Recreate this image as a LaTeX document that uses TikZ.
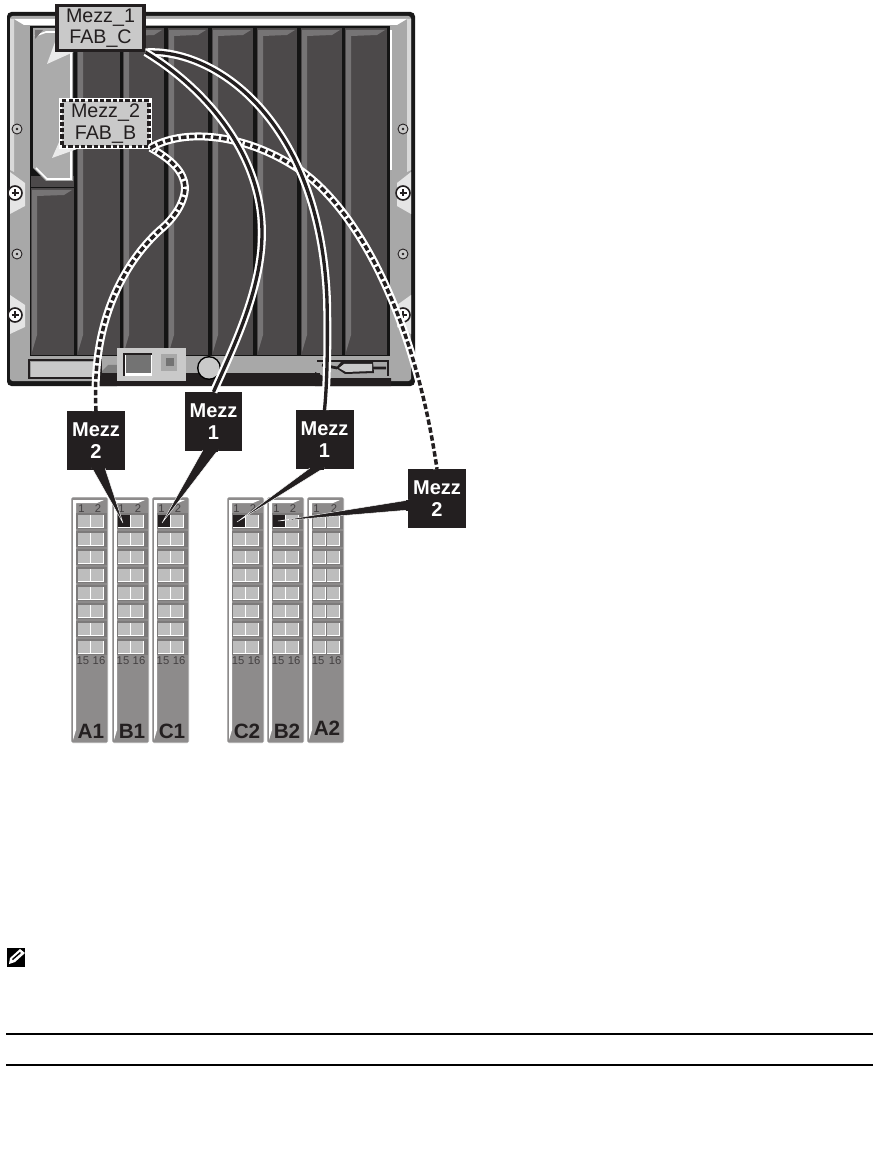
\documentclass[tikz,border=0pt]{standalone}
\usepackage{fontspec}
\setmainfont{Liberation Sans}
\definecolor{bladeC}{HTML}{4C494A}
\definecolor{bevelC}{HTML}{767475}
\definecolor{silverC}{HTML}{A8A8A8}
\definecolor{lightC}{HTML}{C9C9C9}
\definecolor{swC}{HTML}{8D8B8B}
\definecolor{portC}{HTML}{BDBDBD}
\definecolor{inkC}{HTML}{231F20}
\tikzset{
  x=0.02cm,y=-0.02cm,
  greybox/.style={draw=inkC,line width=1.8pt,fill=lightC,inner sep=0pt,align=center,text=inkC,
    font=\fontsize{11.2}{12.2}\selectfont,minimum width=1.74cm,minimum height=0.91cm},
  dashbox/.style={greybox,dash pattern=on 2.4pt off 1.2pt,preaction={draw=white,solid,line width=3pt}},
  blackbox/.style={fill=inkC,text=white,inner sep=0pt,align=center,minimum width=1.16cm,minimum height=1.17cm,
    font=\fontsize{11.4}{12.6}\selectfont\bfseries},
  portnum/.style={inner sep=0pt,text=inkC!85!white,font=\fontsize{6.4}{8}\selectfont},
  swname/.style={inner sep=0pt,text=inkC,font=\fontsize{11.8}{13}\selectfont\bfseries},
  wiresolid/.style={draw=inkC,line width=1.9pt,preaction={draw=white,line width=4.5pt}},
  wiredash/.style={draw=inkC,line width=2pt,dash pattern=on 3.1pt off 1.5pt,preaction={draw=white,solid,line width=4.5pt}},
  pointer/.style={fill=inkC,draw=white,line width=0.25pt},
}
\begin{document}
\begin{tikzpicture}
\useasboundingbox (0,0) rectangle (873,1175);
% chassis
\fill[black!90,rounded corners=2.5pt] (7,12) rectangle (415,386);
\fill[silverC,rounded corners=1.5pt] (10,16) rectangle (411,381);
\fill[white] (14,19) -- (407,19) -- (397,25) -- (24,25) -- cycle;
\fill[white!85!black] (10,19) -- (14,19) -- (14,172) -- (10,170) -- cycle;
\fill[white!85!black] (407,19) -- (411,19) -- (411,170) -- (407,172) -- cycle;
\fill[white!90!black] (10,172) -- (25,183) -- (25,206) -- (10,214) -- cycle;
\fill[white!90!black] (10,295) -- (25,305) -- (25,327) -- (10,334) -- cycle;
\fill[white!90!black] (411,172) -- (397,183) -- (397,206) -- (411,214) -- cycle;
\fill[white!90!black] (411,295) -- (397,305) -- (397,327) -- (411,334) -- cycle;
\draw[white,line width=0.8pt] (391,30) -- (391,170);
% interior
\fill[black!92] (30,26) rectangle (390,356);
\foreach \xa/\xb in {77/120,123/164,168/208,212/253,257/297,301/342,345/387}{
  \fill[bladeC] (\xa,28) rectangle (\xb,355);
  \fill[bevelC] (\xa+1,30) -- (\xb-2,30) -- (\xb-10,35) -- (\xa+6,36) -- (\xa+6,335) -- (\xa+1,352) -- cycle;
}
\fill[bladeC] (31,188) rectangle (74,355);
\fill[bevelC] (32,190) -- (72,190) -- (64,195) -- (37,196) -- (37,335) -- (32,352) -- cycle;
\fill[bladeC] (31,176) rectangle (74,187);
% drive
\fill[lightC!85!black] (33,28) -- (73,28) -- (73,181) -- (46,181) -- (33,168) -- cycle;
\draw[white,line width=0.9pt] (35,36) -- (46,32) -- (71,32) -- (71,179) -- (47,179) -- (36,168);
\fill[bevelC] (35,30) -- (43,30) -- (35,39) -- cycle;
% bottom details
\fill[inkC] (100,375) -- (107,367) -- (117,367) -- (117,386) -- (100,386) -- cycle;
\fill[inkC] (117,373) rectangle (320,386);
\fill[inkC] (315,372) -- (327,378) -- (391,378) -- (391,386) -- (315,386) -- cycle;
\fill[silverC!75!black] (100,373) -- (108,365) -- (117,365) -- (117,373) -- cycle;
\fill[inkC] (28,359) rectangle (102,379);
\fill[silverC!115!white] (30,361) rectangle (98,377);
\fill[lightC] (31,362) rectangle (98,377);
\draw[inkC,line width=0.9pt] (317,361) -- (388,361) -- (388,376);
\draw[inkC,line width=1.6pt] (322,365) -- (337,368) (373,368) -- (386,368);
\fill[inkC] (341,362) -- (373,362) -- (374,373) -- (345,374) -- (336,368) -- cycle;
\fill[lightC] (344,364) -- (372,364) -- (372,371) -- (346,372) -- (339,368) -- cycle;
\fill[lightC] (117,348) rectangle (186,381);
\fill[inkC] (123,353) rectangle (152,376);
\fill[white] (125,355) rectangle (152,376);
\fill[black!55] (126,355) rectangle (151,373);
\fill[silverC] (161,354) rectangle (177,371);
\fill[black!55] (166,358) rectangle (174,366);
\fill[black] (209,368) circle (12);
\fill[lightC] (209,368) circle (10.5);
% screws
\foreach \sx/\sy in {17/129,403/129,17/254,403/254}{
  \draw[inkC,line width=0.5pt,fill=lightC] (\sx,\sy) circle (5);
  \fill[inkC] (\sx,\sy) circle (1.4);
}
\foreach \sx/\sy in {15/193,403/193,15/315,403/315}{
  \draw[inkC,line width=0.9pt,fill=white] (\sx,\sy) circle (7);
  \draw[inkC,line width=0.8pt] (\sx-3.5,\sy) -- (\sx+3.5,\sy) (\sx,\sy-3.5) -- (\sx,\sy+3.5);
}
% switch modules
\foreach \mx/\ma/\mb/\nm/\ny/\hot in {71/78/91/A1/731/0,112/118/131/B1/731/1,152/158/171/C1/731/1,227/233/246/C2/731/1,267/273/286/B2/731/1,307/313/327/A2/728/0}{
  \fill[swC!70!white,rounded corners=1pt] (\mx,497) rectangle (\mx+37,743);
  \fill[swC] (\mx+1,498) rectangle (\mx+36,742);
  \fill[white] (\mx+2,500) -- (\mx+33,500) -- (\mx+26,503) -- (\mx+5,503) -- (\mx+5,730) -- (\mx+2,740) -- cycle;
  \foreach \k in {0,...,7}{
    \fill[swC!88!black] (\mx+5,513+18*\k) rectangle (\mx+36,529+18*\k);
    \fill[white] (\ma,515+18*\k) rectangle (\ma+12.5,527.5+18*\k);
    \fill[portC] (\ma,515+18*\k) rectangle (\ma+11.6,526.6+18*\k);
    \fill[white] (\mb,515+18*\k) rectangle (\mb+12.5,527.5+18*\k);
    \fill[portC] (\mb,515+18*\k) rectangle (\mb+11.6,526.6+18*\k);
  }
  \ifnum\hot=1 \fill[inkC] (\ma,515) rectangle (\ma+11.5,526.5);\fi
  \node[portnum] (one\nm) at (\ma+3.5,509) {1};
  \node[portnum] (two\nm) at (\mb+7,509) {2};
  \node[portnum] (fifteen\nm) at (\ma+5,661) {15};
  \node[portnum] (sixteen\nm) at (\mb+8,661) {16};
  \node[swname] (name\nm) at (\mx+20,\ny) {\nm};
}
% boxes
\node[blackbox] (bkA) at (96,440.5) {Mezz\\2};
\node[blackbox] (bkB) at (213.5,421.5) {Mezz\\1};
\node[blackbox] (bkC) at (324.5,439.5) {Mezz\\1};
\node[blackbox] (bkD) at (437,498.5) {Mezz\\2};
\coordinate (tipA) at (123,523);
\coordinate (tipB) at (162,523);
\coordinate (tipC) at (237,522);
\coordinate (tipD) at (278,521);
\fill[pointer] (92,468) -- (tipA) -- (105,468) -- cycle;
\fill[pointer] (203,450) -- (tipB) -- (218,450) -- cycle;
\fill[pointer] (310,468) -- (tipC) -- (324,468) -- cycle;
\fill[pointer] (409,500) -- (tipD) -- (409,510) -- cycle;
\fill[inkC] (92,466) rectangle (105,470);
\fill[inkC] (203,448) rectangle (218,452);
\fill[inkC] (310,466) rectangle (324,470);
\fill[inkC] (406,499.5) rectangle (410,510.5);
% callout tails
\fill[white!92!black] (55,42) -- (47,64) -- (78,50) -- cycle;
\fill[white!92!black] (60,140) -- (52,158) -- (80,148) -- cycle;
% labels
\node[greybox] (mA) at (100.5,28) {Mezz\_1\\FAB\_C};
\node[dashbox] (mB) at (105.5,123.5) {Mezz\_2\\FAB\_B};
% wires
\draw[wiredash] (mB.south east) .. controls (172,160) and (184,172) .. (185,187)
   .. controls (185,205) and (170,222) .. (160,230)
   .. controls (125,262) and (91,320) .. (bkA.north);
\draw[wiredash] (mB.south east) .. controls (180,130) and (240,130) .. (300,170)
   .. controls (360,212) and (415,320) .. (bkD.north);
\draw[wiresolid] (mA.south east) .. controls (215,48) and (320,120) .. (327,300)
   .. controls (328,345) and (327,385) .. (bkC.north);
\draw[wiresolid] (mA.south east) .. controls (200,85) and (262,150) .. (262,233)
   .. controls (262,290) and (232,350) .. (bkB.north);
% note icon
\node[fill=black,minimum size=0.38cm,inner sep=0pt] (noteicon) at (16,957.5) {};
\fill[white] (9,964) -- (10,958) -- (20,949) -- (25,953) -- (15,962) -- cycle;
\fill[black] (12,959) -- (20,952) -- (21,953) -- (13,960) -- cycle;
% rules
\coordinate (ruleAl) at (6,1034); \coordinate (ruleAr) at (873,1034);
\coordinate (ruleBl) at (6,1065); \coordinate (ruleBr) at (873,1065);
\draw[black,line width=0.85pt] (ruleAl) -- (ruleAr);
\draw[black,line width=0.85pt] (ruleBl) -- (ruleBr);
\end{tikzpicture}
\end{document}
